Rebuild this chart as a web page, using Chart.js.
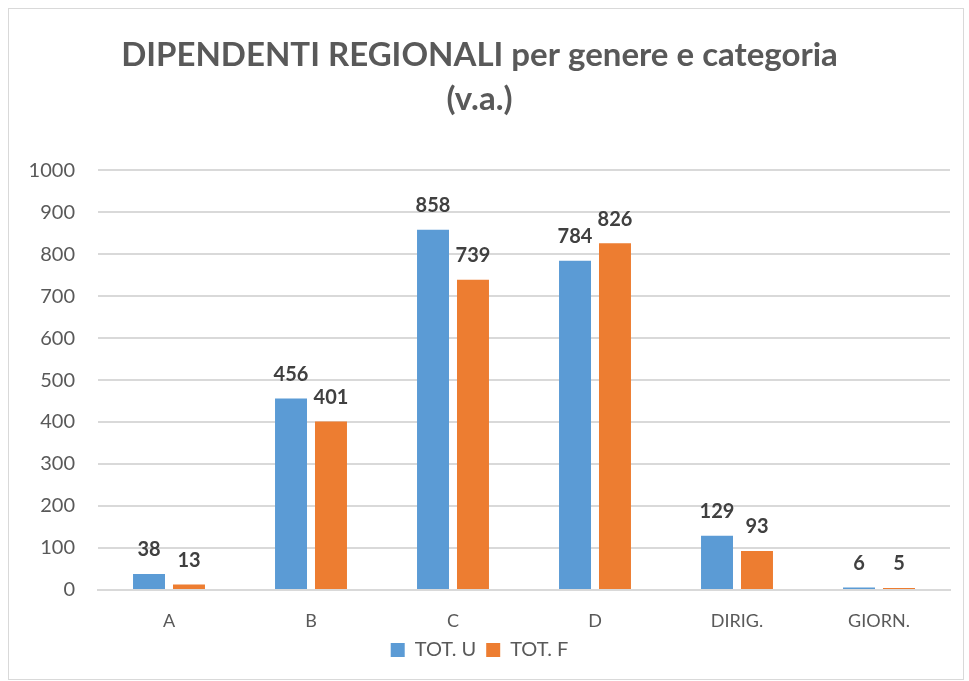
<!DOCTYPE html>
<html>
<head>
<meta charset="utf-8">
<script src="https://cdn.jsdelivr.net/npm/chart.js@4"></script>
<style>
  body { margin: 0; background: #fff; }
  #box { position: absolute; left: 8px; top: 8px; width: 954px; height: 670px; border: 1px solid #d9d9d9; }
</style>
</head>
<body>
<div id="box"><canvas id="chart" width="954" height="670"></canvas></div>
<script>
const categories = ["A", "B", "C", "D", "DIRIG.", "GIORN."];
const totU = [38, 456, 858, 784, 129, 6];
const totF = [13, 401, 739, 826, 93, 5];
const yTicks = [0, 100, 200, 300, 400, 500, 600, 700, 800, 900, 1000];

// draws the value on top of each bar
const valueLabels = {
    id: "valueLabels",
    afterDatasetsDraw(chart) {
        const ctx = chart.ctx;
        ctx.save();
        ctx.font = "bold 20px Lato";
        ctx.fillStyle = "#404040";
        ctx.textAlign = "center";
        ctx.textBaseline = "bottom";
        chart.data.datasets.forEach(function (ds, i) {
            chart.getDatasetMeta(i).data.forEach(function (bar, j) {
                ctx.fillText(ds.data[j], bar.x, bar.y - 14);
            });
        });
        ctx.restore();
    }
};

new Chart(document.getElementById("chart"), {
    type: "bar",
    data: {
        labels: categories,
        datasets: [
            { label: "TOT. U", data: totU, backgroundColor: "#5b9bd5" },
            { label: "TOT. F", data: totF, backgroundColor: "#ed7d31" }
        ]
    },
    options: {
        responsive: false,
        animation: false,
        categoryPercentage: 0.563,
        barPercentage: 0.8,
        layout: { padding: { left: 0, right: 13, top: 0, bottom: 9 } },
        plugins: {
            title: {
                display: true,
                text: ["DIPENDENTI REGIONALI per genere e categoria", "(v.a.)"],
                color: "#595959",
                font: { family: "Lato", size: 33, weight: "bold", lineHeight: 1.35 },
                padding: { top: 24, bottom: 48 }
            },
            legend: {
                position: "bottom",
                labels: {
                    color: "#595959",
                    font: { family: "Lato", size: 20 },
                    boxWidth: 14,
                    boxHeight: 14,
                    padding: 10
                }
            },
            tooltip: { enabled: false }
        },
        scales: {
            x: {
                grid: { display: false },
                border: { color: "#d9d9d9", width: 2 },
                afterFit(axis) { axis.height = 40; },
                ticks: { color: "#595959", font: { family: "Lato", size: 18 }, padding: 12 }
            },
            y: {
                min: 0,
                max: 1000,
                afterBuildTicks(axis) { axis.ticks = yTicks.map(v => ({ value: v })); },
                afterFit(axis) { axis.width = 89; },
                grid: { color: "#d9d9d9", lineWidth: 2, drawTicks: false },
                border: { display: false },
                ticks: {
                    color: "#595959",
                    font: { family: "Lato", size: 20 },
                    padding: 23,
                    callback: v => String(v)
                }
            }
        }
    },
    plugins: [valueLabels]
});
</script>
</body>
</html>
